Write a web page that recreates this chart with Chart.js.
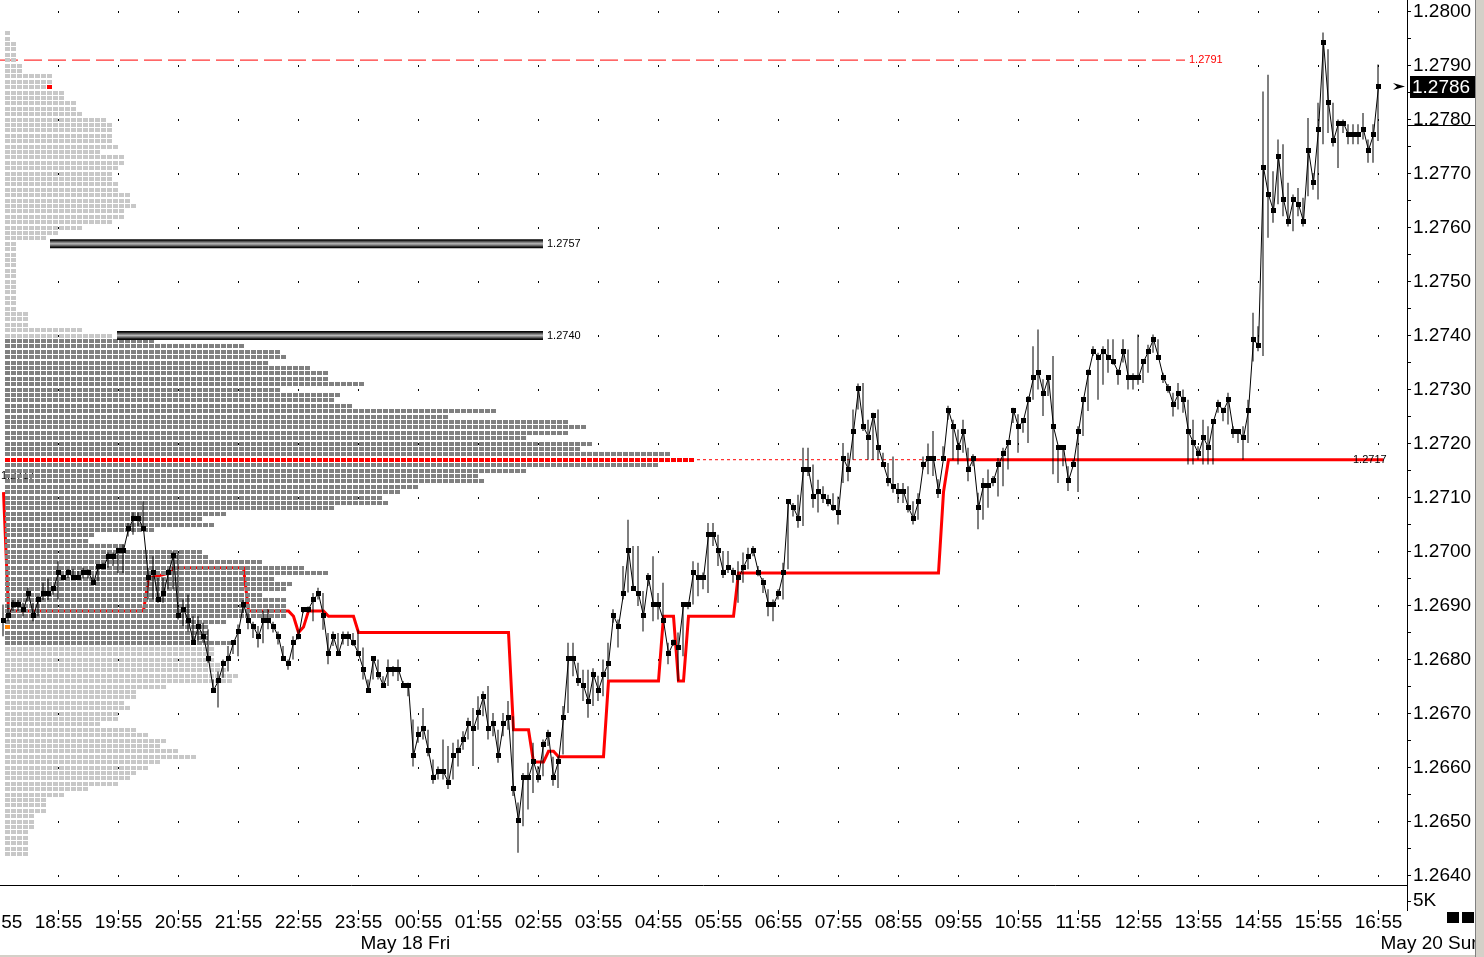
<!DOCTYPE html>
<html>
<head>
<meta charset="utf-8">
<title>EUR/USD 5 min with session profile</title>
<script src="https://cdn.jsdelivr.net/npm/chart.js@4.4.1/dist/chart.umd.min.js"></script>
<style>
  html, body { margin: 0; padding: 0; background: #fff; overflow: hidden; }
  #wrap { position: relative; width: 1484px; height: 957px; }
</style>
</head>
<body>
<div id="wrap"><canvas id="chart"></canvas></div>
<script>
// ---------------------------
// data (5 minute bars, first bar 18:00)
const firstBarTime = '18:00';
const barMinutes = 5;

// one row = one hour (12 bars)
const closes = [
  1.26872, 1.26881, 1.26902, 1.26902, 1.26893, 1.26922, 1.26881, 1.26911, 1.26922, 1.26922, 1.26931, 1.26961,
  1.26951, 1.26961, 1.26951, 1.26951, 1.26961, 1.26961, 1.26942, 1.26972, 1.26972, 1.26991, 1.26991, 1.27002,
  1.27002, 1.27042, 1.27061, 1.27061, 1.27042, 1.26951, 1.26961, 1.26911, 1.26922, 1.26961, 1.26993, 1.26881,
  1.26893, 1.26872, 1.26831, 1.26861, 1.26842, 1.26801, 1.26743, 1.26761, 1.26793, 1.26801, 1.26831, 1.26852,
  1.26902, 1.26872, 1.26861, 1.26842, 1.26872, 1.26872, 1.26861, 1.26842, 1.26801, 1.26793, 1.26831, 1.26842,
  1.26893, 1.26893, 1.26911, 1.26922, 1.26881, 1.26811, 1.26842, 1.26811, 1.26842, 1.26842, 1.26831, 1.26811,
  1.26781, 1.26743, 1.26801, 1.26772, 1.26752, 1.26781, 1.26781, 1.26781, 1.26752, 1.26752, 1.26622, 1.26661,
  1.26672, 1.26631, 1.26582, 1.26592, 1.26592, 1.26572, 1.26622, 1.26631, 1.26652, 1.26681, 1.26672, 1.26701,
  1.26731, 1.26672, 1.26681, 1.26622, 1.26681, 1.26692, 1.26561, 1.26502, 1.26581, 1.26581, 1.26611, 1.26581,
  1.26643, 1.26661, 1.26581, 1.26611, 1.26692, 1.26802, 1.26802, 1.26761, 1.26752, 1.26722, 1.26772, 1.26743,
  1.26772, 1.26793, 1.26881, 1.26861, 1.26922, 1.27002, 1.26931, 1.26922, 1.26881, 1.26951, 1.26902, 1.26902,
  1.26872, 1.26811, 1.26831, 1.26822, 1.26902, 1.26902, 1.26961, 1.26951, 1.26951, 1.27031, 1.27031, 1.27001,
  1.26961, 1.26971, 1.26961, 1.26951, 1.26971, 1.26991, 1.27001, 1.26961, 1.26942, 1.26902, 1.26902, 1.26922,
  1.26961, 1.27092, 1.27081, 1.27061, 1.27152, 1.27152, 1.27101, 1.27111, 1.27101, 1.27092, 1.27081, 1.27072,
  1.27172, 1.27152, 1.27222, 1.27301, 1.27231, 1.27212, 1.27252, 1.27192, 1.27161, 1.27131, 1.27121, 1.27111,
  1.27111, 1.27081, 1.27061, 1.27092, 1.27161, 1.27172, 1.27172, 1.27111, 1.27172, 1.27261, 1.27231, 1.27193,
  1.27222, 1.27152, 1.27172, 1.27081, 1.27122, 1.27122, 1.27131, 1.27161, 1.27181, 1.27201, 1.27261, 1.27231,
  1.27243, 1.27281, 1.27322, 1.27331, 1.27293, 1.27322, 1.27231, 1.27193, 1.27193, 1.27131, 1.27161, 1.27222,
  1.27281, 1.27331, 1.27371, 1.27360, 1.27371, 1.27360, 1.27351, 1.27331, 1.27371, 1.27322, 1.27322, 1.27322,
  1.27351, 1.27371, 1.27393, 1.27360, 1.27322, 1.27301, 1.27272, 1.27292, 1.27281, 1.27222, 1.27201, 1.27181,
  1.27211, 1.27192, 1.27241, 1.27272, 1.27261, 1.27281, 1.27222, 1.27222, 1.27211, 1.27261, 1.27393, 1.27381,
  1.27711, 1.27661, 1.27631, 1.27731, 1.27652, 1.27611, 1.27652, 1.27643, 1.27611, 1.27743, 1.27683, 1.27781,
  1.27942, 1.27831, 1.27761, 1.27793, 1.27793, 1.27772, 1.27772, 1.27772, 1.27781, 1.27743, 1.27772, 1.27861
];
const highs = [
  1.26902, 1.26902, 1.26910, 1.26910, 1.26905, 1.26933, 1.26905, 1.26917, 1.26942, 1.26950, 1.26936, 1.26982,
  1.26957, 1.26967, 1.26967, 1.26964, 1.26970, 1.26967, 1.26957, 1.26976, 1.26979, 1.26998, 1.26998, 1.27007,
  1.27013, 1.27053, 1.27072, 1.27072, 1.27093, 1.26970, 1.26991, 1.26951, 1.26951, 1.26967, 1.27000, 1.26997,
  1.26911, 1.26920, 1.26880, 1.26880, 1.26868, 1.26856, 1.26763, 1.26778, 1.26800, 1.26825, 1.26834, 1.26865,
  1.26910, 1.26886, 1.26870, 1.26862, 1.26890, 1.26893, 1.26870, 1.26852, 1.26825, 1.26800, 1.26843, 1.26855,
  1.26896, 1.26898, 1.26923, 1.26933, 1.26923, 1.26849, 1.26852, 1.26849, 1.26852, 1.26852, 1.26849, 1.26855,
  1.26822, 1.26763, 1.26806, 1.26800, 1.26769, 1.26800, 1.26788, 1.26800, 1.26760, 1.26757, 1.26689, 1.26676,
  1.26710, 1.26670, 1.26615, 1.26602, 1.26652, 1.26640, 1.26646, 1.26652, 1.26667, 1.26692, 1.26710, 1.26732,
  1.26741, 1.26751, 1.26701, 1.26670, 1.26701, 1.26723, 1.26695, 1.26535, 1.26590, 1.26609, 1.26646, 1.26603,
  1.26652, 1.26670, 1.26620, 1.26621, 1.26714, 1.26831, 1.26831, 1.26794, 1.26781, 1.26781, 1.26784, 1.26770,
  1.26800, 1.26831, 1.26893, 1.26874, 1.26973, 1.27059, 1.27010, 1.27010, 1.26927, 1.26960, 1.26991, 1.26923,
  1.26942, 1.26831, 1.26837, 1.26850, 1.26906, 1.26906, 1.26982, 1.26979, 1.26961, 1.27053, 1.27053, 1.27031,
  1.27001, 1.27001, 1.26970, 1.26982, 1.26998, 1.27007, 1.27010, 1.26973, 1.26951, 1.26930, 1.26911, 1.26930,
  1.26979, 1.27093, 1.27090, 1.27105, 1.27192, 1.27192, 1.27161, 1.27133, 1.27121, 1.27105, 1.27108, 1.27102,
  1.27201, 1.27183, 1.27263, 1.27311, 1.27312, 1.27244, 1.27257, 1.27263, 1.27183, 1.27164, 1.27176, 1.27127,
  1.27127, 1.27121, 1.27093, 1.27108, 1.27176, 1.27200, 1.27223, 1.27134, 1.27195, 1.27270, 1.27244, 1.27226,
  1.27244, 1.27192, 1.27180, 1.27109, 1.27136, 1.27152, 1.27140, 1.27173, 1.27192, 1.27204, 1.27266, 1.27254,
  1.27244, 1.27288, 1.27380, 1.27411, 1.27319, 1.27325, 1.27362, 1.27195, 1.27195, 1.27158, 1.27170, 1.27232,
  1.27285, 1.27337, 1.27380, 1.27368, 1.27380, 1.27393, 1.27393, 1.27337, 1.27393, 1.27374, 1.27330, 1.27402,
  1.27356, 1.27383, 1.27402, 1.27393, 1.27331, 1.27310, 1.27294, 1.27312, 1.27300, 1.27281, 1.27244, 1.27195,
  1.27244, 1.27232, 1.27244, 1.27281, 1.27266, 1.27294, 1.27232, 1.27226, 1.27232, 1.27281, 1.27442, 1.27417,
  1.27852, 1.27883, 1.27704, 1.27763, 1.27754, 1.27683, 1.27661, 1.27673, 1.27655, 1.27803, 1.27701, 1.27831,
  1.27961, 1.27930, 1.27831, 1.27800, 1.27800, 1.27791, 1.27791, 1.27791, 1.27812, 1.27763, 1.27791, 1.27902
];
const lows = [
  1.26843, 1.26871, 1.26890, 1.26890, 1.26880, 1.26908, 1.26871, 1.26880, 1.26910, 1.26910, 1.26920, 1.26911,
  1.26948, 1.26951, 1.26948, 1.26948, 1.26950, 1.26950, 1.26939, 1.26945, 1.26967, 1.26970, 1.26973, 1.26960,
  1.26960, 1.27028, 1.27031, 1.27047, 1.27038, 1.26911, 1.26911, 1.26905, 1.26905, 1.26930, 1.26930, 1.26874,
  1.26862, 1.26852, 1.26828, 1.26834, 1.26831, 1.26794, 1.26738, 1.26711, 1.26766, 1.26778, 1.26810, 1.26806,
  1.26886, 1.26856, 1.26840, 1.26822, 1.26830, 1.26856, 1.26850, 1.26828, 1.26797, 1.26781, 1.26800, 1.26837,
  1.26886, 1.26886, 1.26871, 1.26911, 1.26855, 1.26791, 1.26825, 1.26809, 1.26828, 1.26825, 1.26825, 1.26806,
  1.26763, 1.26738, 1.26763, 1.26763, 1.26747, 1.26751, 1.26769, 1.26760, 1.26750, 1.26732, 1.26602, 1.26646,
  1.26652, 1.26621, 1.26570, 1.26578, 1.26578, 1.26560, 1.26578, 1.26602, 1.26633, 1.26652, 1.26603, 1.26670,
  1.26695, 1.26652, 1.26658, 1.26609, 1.26658, 1.26670, 1.26547, 1.26442, 1.26491, 1.26522, 1.26553, 1.26572,
  1.26584, 1.26640, 1.26566, 1.26562, 1.26624, 1.26701, 1.26769, 1.26751, 1.26723, 1.26692, 1.26714, 1.26723,
  1.26732, 1.26763, 1.26868, 1.26822, 1.26911, 1.26924, 1.26930, 1.26899, 1.26852, 1.26936, 1.26871, 1.26874,
  1.26868, 1.26791, 1.26825, 1.26760, 1.26806, 1.26893, 1.26902, 1.26917, 1.26930, 1.26923, 1.27010, 1.26973,
  1.26951, 1.26960, 1.26942, 1.26905, 1.26942, 1.26967, 1.26991, 1.26954, 1.26923, 1.26880, 1.26871, 1.26911,
  1.26911, 1.26967, 1.27065, 1.27044, 1.27047, 1.27140, 1.27081, 1.27072, 1.27090, 1.27084, 1.27075, 1.27050,
  1.27127, 1.27130, 1.27170, 1.27263, 1.27223, 1.27170, 1.27170, 1.27170, 1.27158, 1.27121, 1.27109, 1.27090,
  1.27090, 1.27072, 1.27050, 1.27059, 1.27152, 1.27143, 1.27140, 1.27099, 1.27170, 1.27244, 1.27170, 1.27161,
  1.27183, 1.27130, 1.27158, 1.27041, 1.27059, 1.27081, 1.27121, 1.27102, 1.27121, 1.27152, 1.27238, 1.27183,
  1.27220, 1.27201, 1.27281, 1.27300, 1.27251, 1.27288, 1.27143, 1.27127, 1.27158, 1.27112, 1.27158, 1.27110,
  1.27214, 1.27260, 1.27362, 1.27281, 1.27309, 1.27331, 1.27346, 1.27309, 1.27350, 1.27300, 1.27300, 1.27309,
  1.27312, 1.27331, 1.27368, 1.27356, 1.27312, 1.27294, 1.27250, 1.27263, 1.27257, 1.27161, 1.27161, 1.27170,
  1.27161, 1.27161, 1.27161, 1.27257, 1.27241, 1.27235, 1.27210, 1.27201, 1.27170, 1.27201, 1.27352, 1.27371,
  1.27362, 1.27581, 1.27609, 1.27643, 1.27621, 1.27602, 1.27593, 1.27621, 1.27602, 1.27658, 1.27670, 1.27652,
  1.27754, 1.27775, 1.27750, 1.27710, 1.27775, 1.27754, 1.27754, 1.27754, 1.27763, 1.27720, 1.27720, 1.27760
];

// red developing line: bar index -> value where it turns
const redBars = [0, 1, 28, 29, 33, 34, 48, 49, 57, 58, 59, 60, 61, 64, 65, 70, 71, 101, 102, 105,
  106, 108, 109, 110, 111, 120, 121, 131, 132, 134, 135, 136, 137, 146, 147, 187, 188, 189, 276];
const redValues = [1.2711, 1.2689, 1.2689, 1.2695, 1.2696, 1.2697, 1.2697, 1.2689, 1.2689, 1.2688,
  1.2685, 1.2686, 1.2689, 1.2689, 1.2688, 1.2688, 1.2685, 1.2685, 1.2667, 1.2667,
  1.2661, 1.2661, 1.2663, 1.2663, 1.2662, 1.2662, 1.2676, 1.2676, 1.2688, 1.2688,
  1.2676, 1.2676, 1.2688, 1.2688, 1.2696, 1.2696, 1.2711, 1.2717, 1.2717];

// session profile: blocks per 0.0001 row, top row first
const profileTop = 1.2796;
const profileCounts = [
  1, 1, 2, 2, 2, 2, 3, 3, 8, 8,
  8, 10, 10, 12, 12, 13, 17, 18, 18, 18,
  18, 19, 16, 20, 20, 19, 18, 18, 19, 19,
  21, 21, 22, 20, 20, 18, 13, 9, 7, 2,
  2, 2, 2, 2, 2, 2, 2, 2, 2, 2,
  2, 2, 4, 4, 4, 13, 18, 25, 40, 46,
  47, 44, 51, 54, 54, 60, 46, 56, 55, 58,
  82, 74, 94, 97, 94, 87, 98, 96, 111, 115,
  109, 87, 79, 80, 69, 66, 63, 64, 55, 37,
  33, 35, 25, 15, 14, 20, 33, 34, 43, 50,
  54, 45, 48, 47, 43, 47, 47, 47, 47, 37,
  34, 34, 34, 38, 35, 35, 35, 36, 37, 39,
  38, 27, 22, 22, 20, 21, 19, 19, 16, 22,
  24, 27, 26, 29, 32, 26, 24, 22, 21, 19,
  14, 10, 7, 7, 7, 5, 5, 5, 4, 4,
  4, 4, 4
];
const valueAreaHigh = 1.2739;
const valueAreaLow = 1.2683;
const pocPrice = 1.2717;
const openPrice = 1.2686;

// horizontal levels (from / to in bar units)
const levelPrices = [1.2791, 1.2757, 1.2740, 1.2717];
const levelFrom = [-0.7, 9.3, 22.7, 138.7];
const levelTo = [236.3, 107.9, 107.9, 269.1];
const markerPrice = 1.2779;

// axis texts
const priceLabels = ['1.2640', '1.2650', '1.2660', '1.2670', '1.2680', '1.2690', '1.2700', '1.2710', '1.2720',
  '1.2730', '1.2740', '1.2750', '1.2760', '1.2770', '1.2780', '1.2790', '1.2800'];
const timeLabels = ['17:55', '18:55', '19:55', '20:55', '21:55', '22:55', '23:55', '00:55', '01:55', '02:55',
  '03:55', '04:55', '05:55', '06:55', '07:55', '08:55', '09:55', '10:55', '11:55', '12:55', '13:55',
  '14:55', '15:55', '16:55'];
const dayLabels = ['May 18 Fri', 'May 20 Sun'];
const dayStarts = ['00:00', '17:00'];
const volumeTicks = [5];
const volumeLabels = ['5K'];

// ---------------------------
// helpers
function barIndexOf(hhmm) {
  const [h, m] = hhmm.split(':').map(Number);
  const [h0, m0] = firstBarTime.split(':').map(Number);
  let d = (h * 60 + m) - (h0 * 60 + m0);
  if (d < -barMinutes) d += 1440;
  return d / barMinutes;
}
function block(color, w, h) {
  const c = document.createElement('canvas');
  c.width = w; c.height = h;
  const g = c.getContext('2d');
  g.fillStyle = color;
  g.fillRect(0, 0, w, h);
  return c;
}
const pip = v => Math.round(v * 10000);
const lastClose = closes[closes.length - 1];

function profilePoints(kind) {
  const pts = [];
  profileCounts.forEach((n, i) => {
    const row = pip(profileTop) - i;
    for (let j = 0; j < n; j++) {
      let k;
      if (row === pip(lastClose) && j === n - 1) k = 'last';
      else if (row === pip(openPrice) && j === 0) k = 'open';
      else if (row === pip(pocPrice)) k = 'poc';
      else if (row >= pip(valueAreaLow) && row <= pip(valueAreaHigh)) k = 'va';
      else k = 'out';
      if (k === kind) pts.push({ x: j, y: row / 10000 });
    }
  });
  return pts;
}
function levelLine(i) {
  return [{ x: levelFrom[i], y: levelPrices[i] }, { x: levelTo[i], y: levelPrices[i] }];
}
function tubeColor(price) {
  return (c) => {
    const ys = c.chart.scales.y;
    const py = ys ? ys.getPixelForValue(price) : NaN;
    if (!isFinite(py)) return '#777';
    const g = c.chart.ctx.createLinearGradient(0, py - 4.5, 0, py + 4.5);
    g.addColorStop(0, '#000');
    g.addColorStop(0.12, '#111');
    g.addColorStop(0.3, '#6a6a6a');
    g.addColorStop(0.5, '#b8b8b8');
    g.addColorStop(0.7, '#6a6a6a');
    g.addColorStop(0.88, '#111');
    g.addColorStop(1, '#000');
    return g;
  };
}

// view window of the panels
const priceMax = 1.2800 + 11.5 / 54000;
const priceMin = priceMax - 885 / 54000;
const priceTicks = priceLabels.flatMap((l, i) => i ? [(+priceLabels[i - 1] + +l) / 2, +l] : [+l]);
const isLabelled = v => priceLabels.includes(v.toFixed(4));

Chart.defaults.font.family = '"Liberation Sans", Arial, sans-serif';
Chart.defaults.color = '#000';
const axisFont = { size: 19, lineHeight: 1.2 };

// ---------------------------
// texts and boxes around the plot
const extras = {
  id: 'extras',
  beforeDatasetsDraw(chart) {
    const { ctx } = chart;
    const ys = chart.scales.y;
    ctx.save();
    ctx.font = '11px "Liberation Sans"';
    ctx.fillStyle = '#000';
    ctx.textBaseline = 'middle';
    ctx.fillText(pocPrice.toFixed(4), 1, ys.getPixelForValue(pocPrice) + 16);
    ctx.restore();
  },
  afterDatasetsDraw(chart) {
    const { ctx } = chart;
    const xs = chart.scales.x, ys = chart.scales.y;
    ctx.save();
    ctx.font = '11px "Liberation Sans"';
    ctx.textBaseline = 'middle';
    levelPrices.forEach((p, i) => {
      ctx.fillStyle = i === 0 ? '#ff0000' : '#000';
      ctx.fillText(p.toFixed(4), xs.getPixelForValue(levelTo[i]) + 4, ys.getPixelForValue(p));
    });
    ctx.restore();
  },
  afterDraw(chart) {
    const { ctx } = chart;
    const ys = chart.scales.y;
    const W = chart.width, H = chart.height;
    ctx.save();
    // last price box + arrow
    const py = ys.getPixelForValue(lastClose);
    ctx.fillStyle = '#000';
    ctx.fillRect(ys.left + 3, Math.round(py) - 11, 65, 22);
    ctx.beginPath();
    ctx.moveTo(ys.left - 14, py - 3.5);
    ctx.lineTo(ys.left - 2, py);
    ctx.lineTo(ys.left - 14, py + 3.5);
    ctx.lineTo(ys.left - 10, py);
    ctx.closePath();
    ctx.fill();
    ctx.fillStyle = '#fff';
    ctx.font = '19px "Liberation Sans"';
    ctx.textBaseline = 'middle';
    ctx.fillText(lastClose.toFixed(4), ys.left + 5, py + 1);
    // marker line across the axis
    ctx.fillStyle = '#000';
    ctx.fillRect(ys.left, Math.round(ys.getPixelForValue(markerPrice)), 68, 1);
    // small buttons bottom right
    ctx.fillRect(W - 37, 912, 12, 11);
    ctx.fillRect(W - 22, 912, 12, 11);
    // window frame
    ctx.fillStyle = '#d4d0c8';
    ctx.fillRect(W - 9, 0, 9, H);
    ctx.fillRect(0, H - 2, W, 2);
    ctx.fillStyle = '#808080';
    ctx.fillRect(W - 9, 0, 1, H);
    ctx.restore();
  }
};

// ---------------------------
const ctx = document.getElementById('chart').getContext('2d');
new Chart(ctx, {
  type: 'line',
  data: {
    datasets: [
      {
        type: 'line', data: redBars.map((b, i) => ({ x: b, y: redValues[i] })),
        borderColor: '#ff0000', borderWidth: 3, pointRadius: 0, order: 20,
        xAxisID: 'x', yAxisID: 'y'
      },
      {
        type: 'line', data: levelLine(0), borderColor: '#ff0000', borderWidth: 1,
        borderDash: [18, 6], pointRadius: 0, order: 19, xAxisID: 'x', yAxisID: 'y'
      },
      {
        type: 'scatter', data: profilePoints('out'), pointStyle: block('#c8c8c8', 5, 4),
        pointRadius: 2.5, order: 10, xAxisID: 'xp', yAxisID: 'y'
      },
      {
        type: 'scatter', data: profilePoints('va'), pointStyle: block('#808080', 5, 4),
        pointRadius: 2.5, order: 10, xAxisID: 'xp', yAxisID: 'y'
      },
      {
        type: 'scatter', data: profilePoints('poc').concat(profilePoints('last')),
        pointStyle: block('#ff0000', 5, 4), pointRadius: 2.5, order: 10, xAxisID: 'xp', yAxisID: 'y'
      },
      {
        type: 'scatter', data: profilePoints('open'), pointStyle: block('#ff8000', 5, 4),
        pointRadius: 2.5, order: 10, xAxisID: 'xp', yAxisID: 'y'
      },
      {
        type: 'line', data: levelLine(1), borderColor: tubeColor(levelPrices[1]), borderWidth: 9,
        borderCapStyle: 'butt', pointRadius: 0, order: 8, xAxisID: 'x', yAxisID: 'y'
      },
      {
        type: 'line', data: levelLine(2), borderColor: tubeColor(levelPrices[2]), borderWidth: 9,
        borderCapStyle: 'butt', pointRadius: 0, order: 8, xAxisID: 'x', yAxisID: 'y'
      },
      {
        type: 'line', data: levelLine(3), borderColor: '#ff0000', borderWidth: 1,
        borderDash: [3, 3], pointRadius: 0, order: 8, xAxisID: 'x', yAxisID: 'y'
      },
      {
        type: 'bar', data: closes.map((c, i) => ({ x: i, y: [lows[i], highs[i]] })),
        backgroundColor: '#000', barThickness: 1, inflateAmount: 0, borderWidth: 0,
        order: 2, xAxisID: 'x', yAxisID: 'y'
      },
      {
        type: 'line', data: closes.map((c, i) => ({ x: i, y: c })),
        borderColor: '#000', borderWidth: 1, tension: 0,
        pointStyle: block('#000', 5, 5), pointRadius: 2.5, order: 1, xAxisID: 'x', yAxisID: 'y'
      }
    ]
  },
  options: {
    responsive: true,
    maintainAspectRatio: false,
    devicePixelRatio: 1,
    animation: false,
    events: [],
    layout: { padding: 0, autoPadding: false },
    plugins: { legend: { display: false }, tooltip: { enabled: false } },
    scales: {
      x: {
        type: 'linear', position: 'bottom', weight: 0, min: -0.7, max: 280.7, bounds: 'data', offset: false,
        afterBuildTicks: s => { s.ticks = timeLabels.map(t => ({ value: barIndexOf(t) })); },
        afterFit: s => { s.height = 22; s.paddingLeft = 0; s.paddingRight = 0; },
        ticks: { autoSkip: false, maxRotation: 0, padding: -3, font: axisFont, color: '#000',
          callback: (v, i) => timeLabels[i] },
        grid: { offset: false, color: '#000', lineWidth: 1, tickLength: 4, tickColor: '#000' },
        border: { display: false, dash: [1, 53], dashOffset: 42 }
      },
      xp: { type: 'linear', display: false, offset: false, min: -1.25, max: 233.25, bounds: 'data' },
      xd: {
        type: 'linear', position: 'bottom', weight: 1, min: -0.7, max: 280.7, bounds: 'data', offset: false,
        afterBuildTicks: s => { s.ticks = dayStarts.map(t => ({ value: barIndexOf(t) })); },
        afterFit: s => { s.height = 25; s.paddingLeft = 0; s.paddingRight = 0; },
        ticks: { autoSkip: false, maxRotation: 0, align: 'start', padding: 0, labelOffset: -3,
          font: axisFont, color: '#000', callback: (v, i) => dayLabels[i] },
        grid: { display: false, drawTicks: false, offset: false },
        border: { display: false }
      },
      y: {
        type: 'linear', position: 'right', stack: 'right', stackWeight: 885, weight: 0,
        min: priceMin, max: priceMax, bounds: 'data',
        afterBuildTicks: s => { s.ticks = priceTicks.map(v => ({ value: v })); },
        afterFit: s => { s.width = 77; s.paddingTop = 0; s.paddingBottom = 0; },
        ticks: { autoSkip: false, padding: 2, font: axisFont, color: '#000',
          callback: v => isLabelled(v) ? v.toFixed(4) : '' },
        grid: {
          color: c => (c.tick && isLabelled(c.tick.value)) ? '#000' : 'rgba(0,0,0,0)',
          tickColor: '#000', tickLength: 4, lineWidth: 1
        },
        border: { color: '#000', width: 1, dash: [1, 59], dashOffset: 2 }
      },
      yv: {
        type: 'linear', position: 'right', stack: 'right', stackWeight: 25, weight: 1,
        min: 0, max: 14, bounds: 'data',
        afterBuildTicks: s => { s.ticks = volumeTicks.map(v => ({ value: v })).concat([{ value: 14 }]); },
        afterFit: s => { s.width = 77; s.paddingTop = 0; s.paddingBottom = 0; },
        ticks: { autoSkip: false, padding: 2, font: axisFont, color: '#000',
          callback: v => volumeTicks.includes(v) ? volumeLabels[volumeTicks.indexOf(v)] : '' },
        grid: {
          color: c => (c.tick && c.tick.value === 14) ? '#000' : 'rgba(0,0,0,0)',
          tickColor: c => (c.tick && volumeTicks.includes(c.tick.value)) ? '#000' : 'rgba(0,0,0,0)',
          tickLength: 4, lineWidth: 1
        },
        border: { color: '#000', width: 1 }
      }
    }
  },
  plugins: [extras]
});
</script>
</body>
</html>
